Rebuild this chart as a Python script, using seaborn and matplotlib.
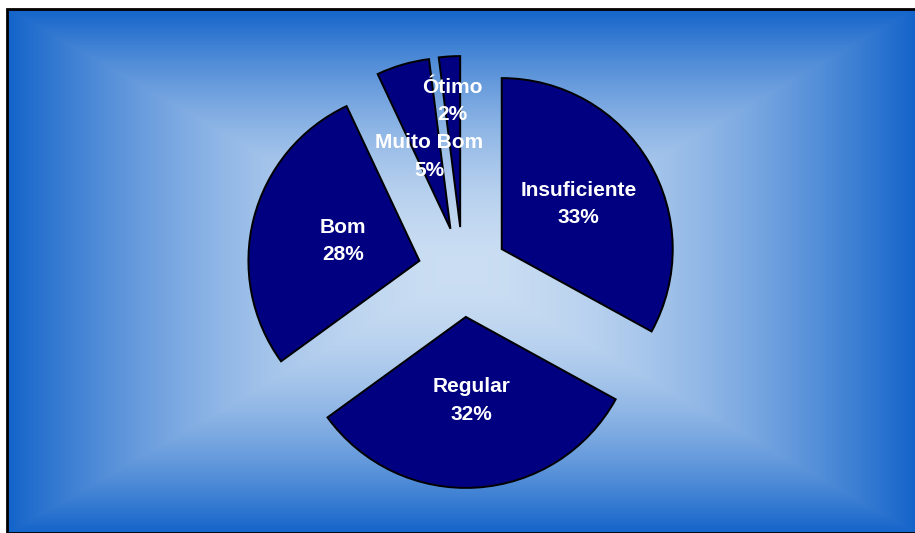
import numpy as np
import matplotlib
matplotlib.use("Agg")
import matplotlib.pyplot as plt
import seaborn as sns
from matplotlib.patches import Rectangle

# data
categories = ["Insuficiente", "Regular", "Bom", "Muito Bom", "Ótimo"]
shares = [33, 32, 28, 5, 2]
pct_labels = ["33%", "32%", "28%", "5%", "2%"]

sns.set_theme(style="white")
plt.rcParams['font.family'] = ['Liberation Sans', 'DejaVu Sans']

W, H = 915, 533
fig = plt.figure(figsize=(W / 100, H / 100), dpi=100, facecolor="white")
ax = fig.add_axes([0, 0, 1, 1])

### background: rectangular gradient, light in the middle, blue at the edges
x0, x1, y0, y1 = 7, W, 0, H - 9
gx, gy = 462, H - 271
xs = np.linspace(x0, x1, 600)
ys = np.linspace(y1, y0, 360)
XX, YY = np.meshgrid(xs, ys)
t = np.maximum(np.abs(XX - gx) / (x1 - gx), np.abs(YY - gy) / (y1 - gy))
t = np.clip(t, 0, 1) ** 1.8
inner = np.array([203, 222, 243]) / 255
outer = np.array([20, 100, 202]) / 255
img = inner[None, None, :] * (1 - t[..., None]) + outer[None, None, :] * t[..., None]
ax.imshow(img, extent=(x0, x1, y0, y1), origin="upper", aspect="auto", zorder=0)
ax.add_patch(Rectangle((x0, y0), x1 - x0 + 5, y1 - y0, fill=False,
                       edgecolor="black", linewidth=2, zorder=1))

### exploded pie
radius = 171
explode = [45] * len(shares)
wedges, _ = ax.pie(shares, center=(463, H - 272), radius=radius, explode=explode,
                   startangle=90, counterclock=False, colors=["#000080"] * len(shares),
                   wedgeprops=dict(edgecolor="black", linewidth=1.4), frame=True)
ax.set_xlim(0, W)
ax.set_ylim(0, H)
ax.axis("off")

# label distance from each wedge tip, fraction of radius
label_dist = [0.52, 0.49, 0.46, 0.44, 0.74]
for w, cat, pct, d in zip(wedges, categories, pct_labels, label_dist):
    ang = np.deg2rad((w.theta1 + w.theta2) / 2)
    cx, cy = w.center
    ax.text(cx + d * radius * np.cos(ang), cy + d * radius * np.sin(ang),
            cat + "\n" + pct, ha="center", va="center", color="white",
            fontsize=15, fontweight="bold", linespacing=1.55, zorder=5)

fig.savefig("out.png", dpi=100, facecolor="white")
